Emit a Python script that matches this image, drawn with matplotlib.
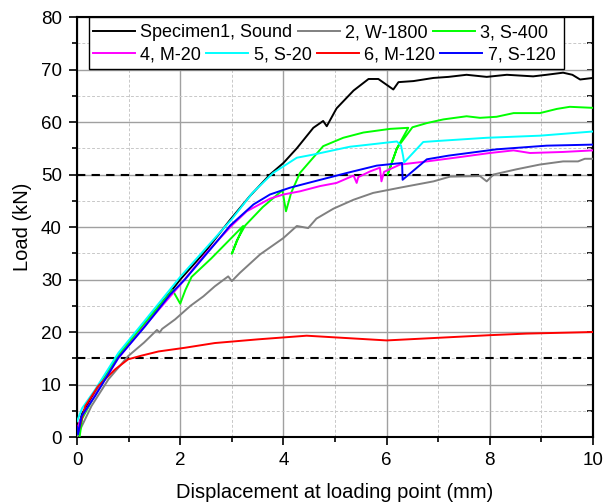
import matplotlib
matplotlib.use("Agg")
import matplotlib.pyplot as plt
from matplotlib.ticker import MultipleLocator
from matplotlib.patches import Rectangle

plt.rcParams['font.family'] = ['Liberation Sans', 'DejaVu Sans']

# load-displacement curves, one per specimen
labels = ['Specimen1, Sound', '2, W-1800', '3, S-400',
          '4, M-20', '5, S-20', '6, M-120', '7, S-120']
colors = ['#000000', '#808080', '#00ff00', '#ff00ff', '#00ffff', '#ff0000', '#0000ff']

sound_x = [0, 0.1, 0.4, 0.8, 1.3, 1.8, 2.0, 2.5, 2.97, 3.35, 3.74, 4.0, 4.26, 4.58, 4.77, 4.84,
           5.03, 5.36, 5.65, 5.84, 6.13, 6.23, 6.52, 6.91, 7.2, 7.55, 7.94, 8.33, 8.84, 9.1,
           9.42, 9.6, 9.75, 10]
sound_y = [1, 4.5, 9.5, 15.5, 21.5, 27.5, 30, 35.5, 41.4, 45.9, 50, 52.2, 55, 58.9, 60.2, 59.2,
           62.6, 66, 68.2, 68.2, 66.2, 67.6, 67.8, 68.4, 68.6, 69, 68.6, 69, 68.7, 69,
           69.4, 69.0, 68.1, 68.4]

w1800_x = [0, 0.06, 0.28, 0.61, 0.99, 1.3, 1.55, 1.6, 1.65, 1.9, 2.2, 2.45, 2.67, 2.93, 3.0, 3.16,
           3.55, 4.0, 4.26, 4.48, 4.64, 4.97, 5.36, 5.74, 6.26, 6.91, 7.23, 7.81, 7.94, 8.07,
           8.52, 8.97, 9.42, 9.71, 9.84, 10]
w1800_y = [0, 1.4, 5.9, 11, 15.4, 18, 20.4, 19.9, 20.6, 22.4, 25, 26.8, 28.7, 30.6, 29.7, 31.3,
           34.8, 37.9, 40.2, 39.8, 41.6, 43.5, 45.2, 46.5, 47.5, 48.7, 49.6, 49.7, 48.7, 50,
           51, 51.9, 52.5, 52.5, 53, 53]

s400_x = [0.05, 0.1, 0.4, 0.8, 1.3, 1.85, 2.0, 2.1, 2.22, 2.6, 3.0, 3.22, 3.0, 3.1, 3.26, 3.6,
          3.98, 4.05, 4.15, 4.32, 4.77, 5.16, 5.55, 6.07, 6.42, 6.2, 6.02, 6.2, 6.5, 6.78,
          7.1, 7.55, 7.81, 8.13, 8.46, 8.97, 9.3, 9.55, 10]
s400_y = [0, 3.5, 9, 15.5, 21.5, 28, 25.4, 28, 30.5, 34, 38, 40.2, 34.9, 37.5, 40.3, 43.8,
          47, 43, 46.5, 50.3, 55.4, 57, 58, 58.7, 58.9, 55, 50, 55, 59, 59.8,
          60.5, 61.1, 60.8, 61, 61.7, 61.7, 62.5, 62.9, 62.7]

m20_x = [0, 0.1, 0.35, 0.8, 1.3, 2.0, 2.5, 3.0, 3.29, 3.74, 4.0, 4.32, 4.71, 5.03, 5.36, 5.42,
         5.45, 5.68, 5.87, 5.9, 5.95, 6.26, 6.78, 7.4, 8.0, 8.46, 8.78, 9.42, 10]
m20_y = [1.5, 4, 8, 15, 21, 29, 35, 40.3, 43, 45.4, 46.2, 46.8, 47.8, 48.4, 49.8, 48.4,
         49.5, 50.6, 51.3, 48.7, 50.5, 51.9, 52.5, 53.3, 54.1, 54.6, 54.1, 54.3, 54.6]

s20_x = [0, 0.1, 0.35, 0.8, 1.3, 2.0, 2.5, 3.0, 3.4, 3.8, 4.26, 4.58, 5.29, 5.48, 6.2, 6.28,
         6.32, 6.34, 6.71, 7.0, 7.94, 8.97, 10]
s20_y = [3, 5.5, 9, 16, 22, 30.5, 36, 41.5, 46.5, 50.3, 53.2, 53.8, 55.3, 55.5, 56.3, 55.5,
         53.5, 52.3, 56.2, 56.4, 57, 57.4, 58.2]

m120_x = [-0.04, 0.03, 0.16, 0.41, 0.74, 0.99, 1.25, 1.58, 2.09, 2.67, 3.5, 4.45, 6.0, 8.0, 8.71, 10]
m120_y = [2.7, 1.1, 5.9, 9.7, 12.9, 14.8, 15.5, 16.3, 17, 17.9, 18.6, 19.3, 18.4, 19.4, 19.7, 20]

s120_x = [0, 0.02, 0.09, 0.35, 0.8, 1.32, 1.8, 2.09, 2.58, 2.97, 3.42, 3.74, 4.13, 4.52, 5.23,
          5.81, 6.3, 6.31, 6.78, 7.2, 8.13, 9.1, 10]
s120_y = [2, 0.5, 4, 7.8, 15.1, 21.1, 27.1, 30, 35.7, 40.3, 44.3, 46.2, 47.5, 48.5, 50.3,
          51.7, 52.2, 49, 52.9, 53.6, 54.8, 55.5, 55.7]

curves = [(sound_x, sound_y), (w1800_x, w1800_y), (s400_x, s400_y), (m20_x, m20_y),
          (s20_x, s20_y), (m120_x, m120_y), (s120_x, s120_y)]

# reference load levels
ref_loads = [50, 15]

fig = plt.figure(figsize=(6.04, 5.04), dpi=100)
ax = fig.add_axes([0.1275, 0.1329, 0.8543, 0.8333])

handles = []
for (xs, ys), lab, col in zip(curves, labels, colors):
    h, = ax.plot(xs, ys, color=col, lw=1.4, label=lab, zorder=3)
    handles.append(h)

for yl in ref_loads:
    ax.axhline(yl, color='black', lw=1.5, dashes=(4, 3), zorder=2.8)

ax.set_xlim(0, 10)
ax.set_ylim(0, 80)
ax.xaxis.set_major_locator(MultipleLocator(2))
ax.xaxis.set_minor_locator(MultipleLocator(1))
ax.yaxis.set_major_locator(MultipleLocator(10))
ax.yaxis.set_minor_locator(MultipleLocator(5))

ax.grid(which='major', color='#a0a0a0', lw=1.0, zorder=1)
ax.grid(which='minor', color='#c8c8c8', lw=0.7, dashes=(3, 2), zorder=1)
ax.set_axisbelow(True)

for sp in ax.spines.values():
    sp.set_linewidth(1.5)

ax.tick_params(which='major', direction='out', length=6, width=1.2, labelsize=13.5, pad=5)
ax.tick_params(which='minor', direction='out', length=3.5, width=1.2)
ax.tick_params(which='both', right=False, top=False)

right = ax.secondary_yaxis('right')
right.yaxis.set_major_locator(MultipleLocator(10))
right.yaxis.set_minor_locator(MultipleLocator(5))
right.tick_params(which='major', direction='in', length=4, width=1.2, labelright=False)
right.tick_params(which='minor', direction='in', length=4, width=1.2)
right.spines['right'].set_linewidth(1.5)

ax.set_xlabel('Displacement at loading point (mm)', fontsize=14.5, labelpad=10)
ax.set_ylabel('Load (kN)', fontsize=14.5, labelpad=6)

# two-row legend inside one box
ax.add_patch(Rectangle((0.023, 0.876), 0.921, 0.124, transform=ax.transAxes,
                       facecolor='white', edgecolor='black', lw=1.0, zorder=4, clip_on=False))
leg_kw = dict(frameon=False, fontsize=13, handlelength=2.33, handletextpad=0.28,
              columnspacing=0.3, borderpad=0, borderaxespad=0, loc='center left',
              bbox_transform=ax.transAxes)
leg1 = ax.legend(handles=handles[:3], ncol=3, bbox_to_anchor=(0.031, 0.962), **leg_kw)
leg1.set_zorder(5)
ax.add_artist(leg1)
leg2 = ax.legend(handles=handles[3:], ncol=4, bbox_to_anchor=(0.031, 0.910), **leg_kw)
leg2.set_zorder(5)

fig.savefig('out.png', dpi=100)
